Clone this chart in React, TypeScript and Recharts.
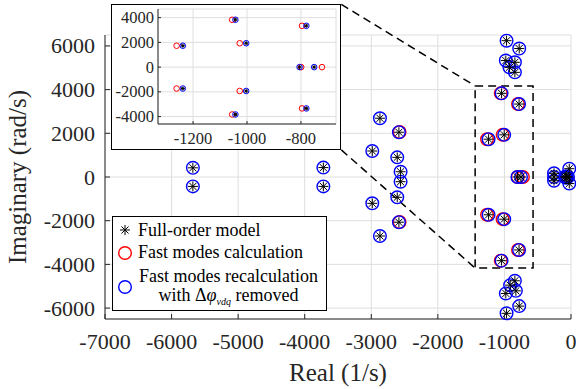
import {
  CartesianGrid,
  Label,
  ReferenceArea,
  ReferenceLine,
  Scatter,
  ScatterChart,
  XAxis,
  YAxis,
} from "recharts";

const fullOrderModel: [number, number][] = [
  [-5680, 420], [-5680, -430],
  [-3720, 430], [-3720, -430],
  [-2870, 2690], [-2870, -2700],
  [-2585, 2050], [-2585, -2070],
  [-2985, 1190], [-2985, -1205],
  [-2610, 900], [-2610, -930],
  [-2560, 240], [-2560, -215],
  [-1043, 3830], [-1043, -3830],
  [-1238, 1730], [-1238, -1730],
  [-1003, 1930], [-1003, -1930],
  [-780, 3340], [-780, -3340],
  [-805, 0], [-751, 0],
  [-968, 6240], [-778, 5880], [-979, 5330], [-843, 5250], [-925, 5020], [-843, 4790],
  [-843, -4750], [-914, -4950], [-979, -5330], [-828, -5210], [-778, -5910], [-968, -6240],
  [-255, 170], [-255, 0], [-255, -170],
  [-26, 380], [-26, -300],
  [-90, 0], [-75, 40], [-75, -40], [-60, 0], [-45, 0],
];

const fastModesCalc: [number, number][] = [
  [-1055, 3830], [-1055, -3830],
  [-1261, 1730], [-1261, -1730],
  [-1027, 1930], [-1027, -1930],
  [-796, 3340], [-796, -3340],
  [-799, 0], [-722, 0],
  [-2575, 2060], [-2575, -2060],
];

const fastModesRecalc: [number, number][] = [
  [-5680, 420], [-5680, -430],
  [-3720, 430], [-3720, -430],
  [-2870, 2690], [-2870, -2700],
  [-2585, 2050], [-2585, -2070],
  [-2985, 1190], [-2985, -1205],
  [-2610, 900], [-2610, -930],
  [-2560, 240], [-2560, -215],
  [-1043, 3830], [-1043, -3830],
  [-1238, 1730], [-1238, -1730],
  [-1003, 1930], [-1003, -1930],
  [-780, 3340], [-780, -3340],
  [-805, 0], [-751, 0],
  [-968, 6240], [-778, 5880], [-979, 5330], [-843, 5250], [-925, 5020], [-843, 4790],
  [-843, -4750], [-914, -4950], [-979, -5330], [-828, -5210], [-778, -5910], [-968, -6240],
  [-255, 170], [-255, 0], [-255, -170],
  [-26, 380], [-26, -300],
  [-90, 0], [-75, 40], [-75, -40], [-60, 0], [-45, 0],
];

const mainXTicks = [-7000, -6000, -5000, -4000, -3000, -2000, -1000, 0];
const mainYTicks = [-6000, -4000, -2000, 0, 2000, 4000, 6000];
const insetXTicks = [-1200, -1000, -800];
const insetYTicks = [-4000, -2000, 0, 2000, 4000];

const mainXDomain: [number, number] = [-7000, 0];
const mainYDomain: [number, number] = [-6500, 6500];
const insetXDomain: [number, number] = [-1330, -670];
const insetYDomain: [number, number] = [-4600, 4700];

// dashed zoom box and the inset frame corners it connects to (data coords)
const zoomBox = { x1: -1440, x2: -570, y1: -4170, y2: 4170 };
const insetCornerTop = { x: -3450, y: 7900 };
const insetCornerBottom = { x: -3450, y: 1240 };

const FONT = '"Liberation Serif", "Times New Roman", serif';
const AXIS = "#262626";
const GRID = "#dedede";
const RED = "#ff0000";
const BLUE = "#0000ff";

const toPts = (arr: [number, number][]) => arr.map(([x, y]) => ({ x, y }));
const inInset = (p: { x: number; y: number }) =>
  p.x >= insetXDomain[0] && p.x <= insetXDomain[1] && p.y >= insetYDomain[0] && p.y <= insetYDomain[1];

function Asterisk({ cx, cy, r }: { cx: number; cy: number; r: number }) {
  const d = r * Math.SQRT1_2;
  return (
    <g stroke="#000" strokeWidth={1}>
      <line x1={cx - r} y1={cy} x2={cx + r} y2={cy} />
      <line x1={cx} y1={cy - r} x2={cx} y2={cy + r} />
      <line x1={cx - d} y1={cy - d} x2={cx + d} y2={cy + d} />
      <line x1={cx - d} y1={cy + d} x2={cx + d} y2={cy - d} />
    </g>
  );
}

function Ring({ cx, cy, r, color, w }: { cx: number; cy: number; r: number; color: string; w: number }) {
  return <circle cx={cx} cy={cy} r={r} fill="none" stroke={color} strokeWidth={w} />;
}

function MainXTick(p: any) {
  return (
    <g>
      <line x1={p.x} y1={p.y} x2={p.x} y2={p.y - 5} stroke={AXIS} />
      <text x={p.x} y={p.y + 30} textAnchor="middle" fontSize={22} fontFamily={FONT} fill={AXIS}>
        {p.payload.value}
      </text>
    </g>
  );
}

function MainYTick(p: any) {
  return (
    <g>
      <line x1={p.x} y1={p.y} x2={p.x + 5} y2={p.y} stroke={AXIS} />
      <text x={p.x - 10} y={p.y + 7.5} textAnchor="end" fontSize={22} fontFamily={FONT} fill={AXIS}>
        {p.payload.value}
      </text>
    </g>
  );
}

function InsetXTick(p: any) {
  return (
    <g>
      <line x1={p.x} y1={p.y} x2={p.x} y2={p.y - 3} stroke={AXIS} />
      <text x={p.x} y={p.y + 20} textAnchor="middle" fontSize={16.5} fontFamily={FONT} fill={AXIS}>
        {p.payload.value}
      </text>
    </g>
  );
}

function InsetYTick(p: any) {
  return (
    <g>
      <line x1={p.x} y1={p.y} x2={p.x + 3} y2={p.y} stroke={AXIS} />
      <text x={p.x - 4} y={p.y + 5.5} textAnchor="end" fontSize={16.5} fontFamily={FONT} fill={AXIS}>
        {p.payload.value}
      </text>
    </g>
  );
}

function MainChart() {
  return (
    <ScatterChart width={576} height={389} margin={{ top: 35, right: 5, bottom: 0, left: 0 }}>
      <CartesianGrid stroke={GRID} />
      <XAxis
        type="number"
        dataKey="x"
        domain={mainXDomain}
        ticks={mainXTicks}
        interval={0}
        height={70}
        tickSize={0}
        tickMargin={0}
        tickLine={false}
        axisLine={{ stroke: AXIS }}
        tick={(p: any) => <MainXTick {...p} />}
      >
        <Label
          content={(props: any) => {
            const vb = props.viewBox;
            return (
              <text x={vb.x + vb.width / 2} y={vb.y + 62} textAnchor="middle" fontSize={25} fontFamily={FONT} fill={AXIS}>
                Real (1/s)
              </text>
            );
          }}
        />
      </XAxis>
      <YAxis
        type="number"
        dataKey="y"
        domain={mainYDomain}
        ticks={mainYTicks}
        interval={0}
        width={105}
        tickSize={0}
        tickMargin={0}
        tickLine={false}
        axisLine={{ stroke: AXIS }}
        tick={(p: any) => <MainYTick {...p} />}
      >
        <Label
          content={(props: any) => {
            const vb = props.viewBox;
            const cy = vb.y + vb.height / 2;
            return (
              <text
                x={26}
                y={cy}
                transform={`rotate(-90, 26, ${cy})`}
                textAnchor="middle"
                fontSize={25}
                fontFamily={FONT}
                fill={AXIS}
              >
                Imaginary (rad/s)
              </text>
            );
          }}
        />
      </YAxis>
      <ReferenceArea
        x1={zoomBox.x1}
        x2={zoomBox.x2}
        y1={zoomBox.y1}
        y2={zoomBox.y2}
        fill="none"
        fillOpacity={0}
        stroke="#000"
        strokeWidth={1.5}
        strokeDasharray="8 5"
      />
      <ReferenceLine
        segment={[insetCornerTop, { x: zoomBox.x1, y: zoomBox.y2 }]}
        stroke="#000"
        strokeWidth={1.5}
        strokeDasharray="8 5"
        ifOverflow="visible"
      />
      <ReferenceLine
        segment={[insetCornerBottom, { x: zoomBox.x1, y: zoomBox.y1 }]}
        stroke="#000"
        strokeWidth={1.5}
        strokeDasharray="8 5"
        ifOverflow="visible"
      />
      <Scatter
        data={toPts(fastModesCalc)}
        isAnimationActive={false}
        shape={(p: any) => <Ring cx={p.cx} cy={p.cy} r={6.3} color={RED} w={1.4} />}
      />
      <Scatter
        data={toPts(fastModesRecalc)}
        isAnimationActive={false}
        shape={(p: any) => <Ring cx={p.cx} cy={p.cy} r={6.3} color={BLUE} w={1.4} />}
      />
      <Scatter
        data={toPts(fullOrderModel)}
        isAnimationActive={false}
        shape={(p: any) => <Asterisk cx={p.cx} cy={p.cy} r={5} />}
      />
    </ScatterChart>
  );
}

function InsetChart() {
  return (
    <ScatterChart width={230} height={146} margin={{ top: 5, right: 5, bottom: 0, left: 0 }}>
      <CartesianGrid stroke={GRID} />
      <XAxis
        type="number"
        dataKey="x"
        domain={insetXDomain}
        ticks={insetXTicks}
        interval={0}
        height={26}
        tickSize={0}
        tickMargin={0}
        tickLine={false}
        axisLine={{ stroke: AXIS }}
        tick={(p: any) => <InsetXTick {...p} />}
      />
      <YAxis
        type="number"
        dataKey="y"
        domain={insetYDomain}
        ticks={insetYTicks}
        interval={0}
        width={47}
        tickSize={0}
        tickMargin={0}
        tickLine={false}
        axisLine={{ stroke: AXIS }}
        tick={(p: any) => <InsetYTick {...p} />}
      />
      <Scatter
        data={toPts(fastModesCalc).filter(inInset)}
        isAnimationActive={false}
        shape={(p: any) => <Ring cx={p.cx} cy={p.cy} r={2.8} color={RED} w={1} />}
      />
      <Scatter
        data={toPts(fastModesRecalc).filter(inInset)}
        isAnimationActive={false}
        shape={(p: any) => <Ring cx={p.cx} cy={p.cy} r={2.8} color={BLUE} w={1} />}
      />
      <Scatter
        data={toPts(fullOrderModel).filter(inInset)}
        isAnimationActive={false}
        shape={(p: any) => <Asterisk cx={p.cx} cy={p.cy} r={2} />}
      />
    </ScatterChart>
  );
}

function LegendBox() {
  const text: React.CSSProperties = {
    position: "absolute",
    fontFamily: FONT,
    fontSize: 18,
    lineHeight: "20px",
    color: "#000",
    whiteSpace: "nowrap",
  };
  return (
    <div
      style={{
        position: "absolute",
        left: 112,
        top: 216,
        width: 215,
        height: 95,
        boxSizing: "border-box",
        border: "1.5px solid #000",
        background: "#fff",
        fontFamily: FONT,
      }}
    >
      <svg width={26} height={92} style={{ position: "absolute", left: 0, top: 0 }}>
        <Asterisk cx={12} cy={13} r={5} />
        <Ring cx={12} cy={36} r={6.3} color={RED} w={1.4} />
        <Ring cx={12} cy={70} r={6.3} color={BLUE} w={1.4} />
      </svg>
      <div style={{ ...text, left: 25, top: 3 }}>Full-order model</div>
      <div style={{ ...text, left: 25, top: 25 }}>Fast modes calculation</div>
      <div style={{ ...text, left: 23, top: 50, width: 185, textAlign: "center", lineHeight: "18.5px" }}>
        Fast modes recalculation
        <br />
        with Δ<i>φ</i>
        <span style={{ fontSize: 10, fontStyle: "italic", position: "relative", top: 4 }}>vdq</span> removed
      </div>
    </div>
  );
}

export default function App() {
  return (
    <div style={{ position: "absolute", left: 0, top: 0, width: 576, height: 389, background: "#fff", fontFamily: FONT }}>
      <MainChart />
      <div
        style={{
          position: "absolute",
          left: 111,
          top: 4,
          width: 230,
          height: 146,
          boxSizing: "border-box",
          border: "1.5px solid #000",
          background: "#fff",
        }}
      />
      <div style={{ position: "absolute", left: 111, top: 4 }}>
        <InsetChart />
      </div>
      <LegendBox />
    </div>
  );
}
